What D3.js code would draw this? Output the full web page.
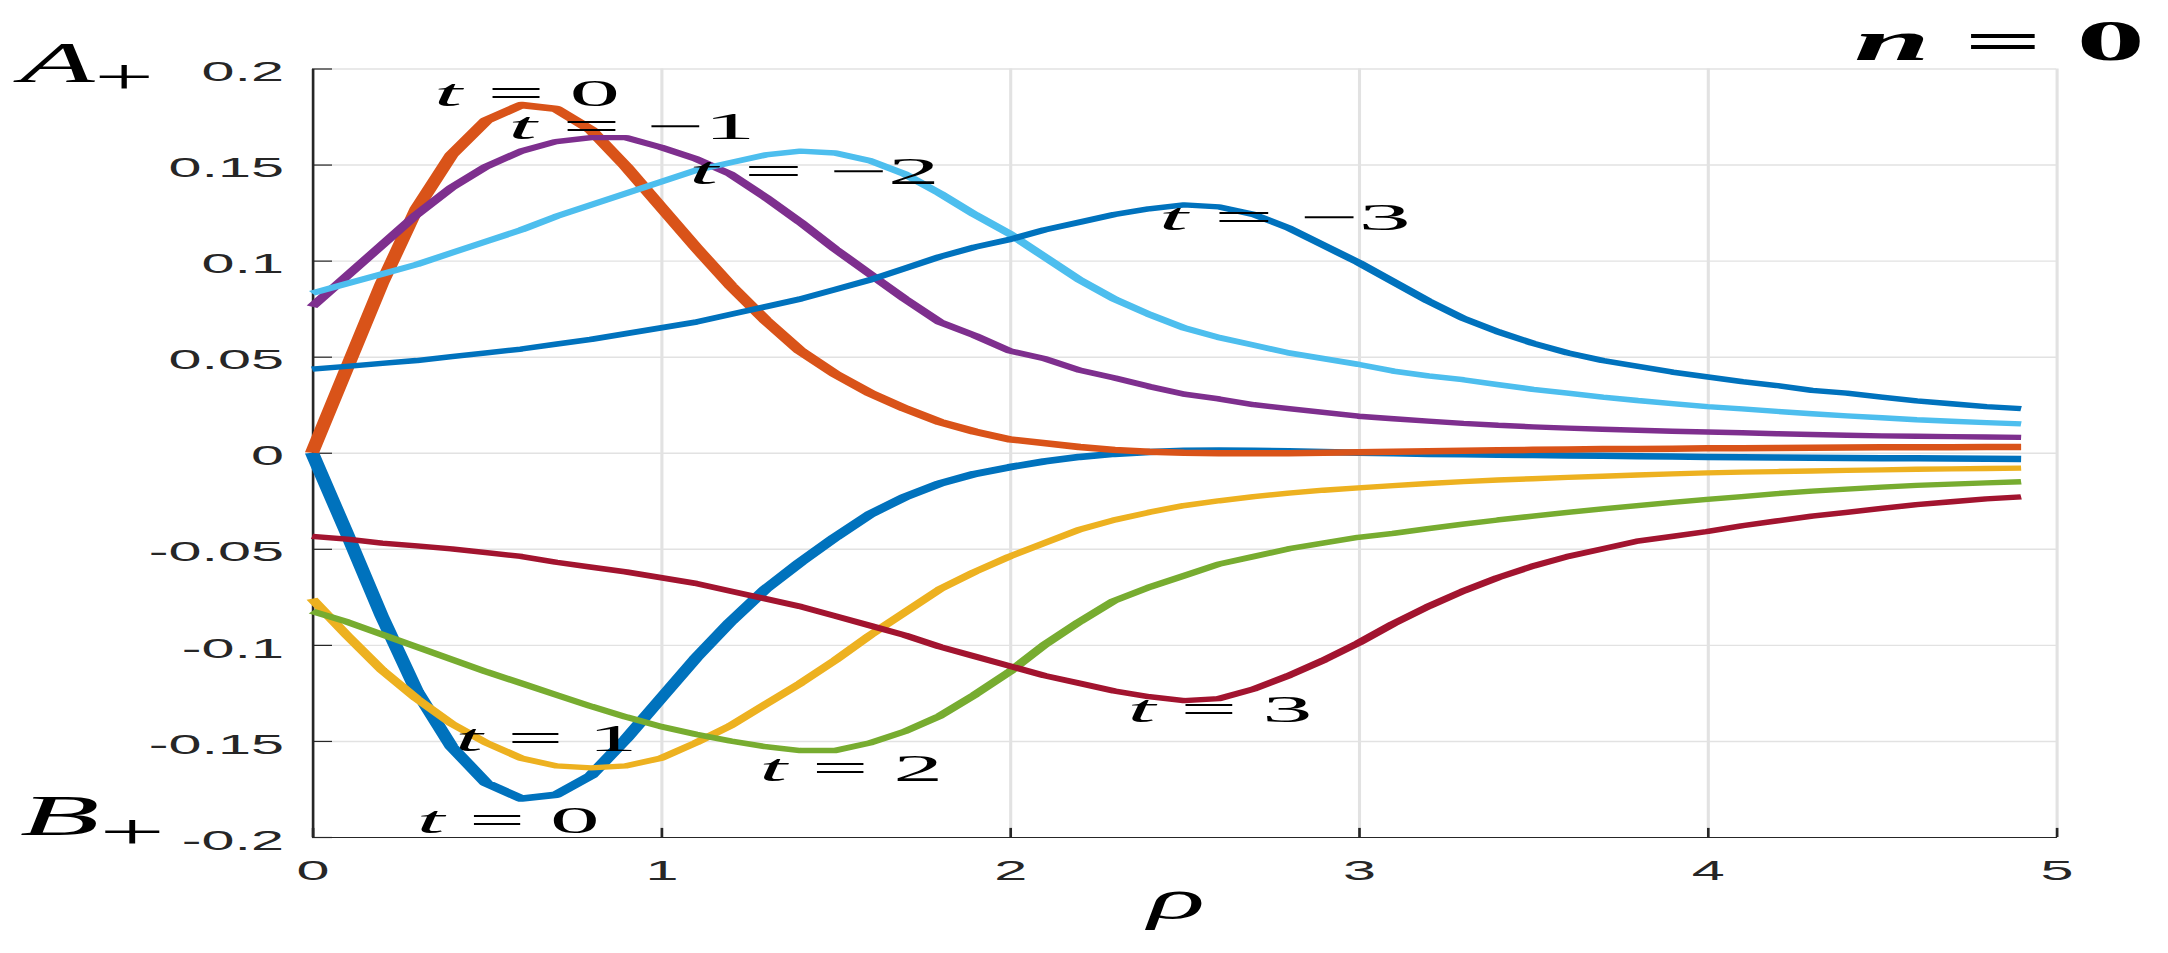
<!DOCTYPE html>
<html>
<head>
<meta charset="utf-8">
<script src="https://cdn.jsdelivr.net/npm/d3@7"></script>
<style>
  html, body { margin: 0; padding: 0; background: #fff; }
  svg { display: block; }
  .axis .tick text { font-family: "Liberation Sans", Arial, sans-serif; font-size: 27px; fill: #262626; }
  .math { font-family: "Liberation Serif", "Times New Roman", serif; fill: #000; }
</style>
</head>
<body>
<svg width="2168" height="953"></svg>
<script>
// sample points along rho (step 0.1, last one 4.9)
const rho = d3.range(50).map(i => i / 10);

// A+ curves
const aT0 = [0, 0.044, 0.088, 0.127, 0.155, 0.173, 0.181, 0.179, 0.168, 0.149,
  0.128, 0.107, 0.087, 0.069, 0.053, 0.041, 0.031, 0.023, 0.016, 0.011,
  0.007, 0.005, 0.003, 0.0015, 0.0005, 0, -0.0003, -0.0003, -0.0002, 0,
  0.0002, 0.0005, 0.0008, 0.001, 0.0013, 0.0015, 0.0017, 0.0019, 0.002, 0.0021,
  0.0023, 0.0024, 0.0025, 0.0026, 0.0027, 0.0028, 0.0028, 0.0029, 0.003, 0.003];
const aM1 = [0.076, 0.092, 0.108, 0.124, 0.138, 0.149, 0.157, 0.162, 0.164, 0.164,
  0.159, 0.153, 0.145, 0.133, 0.120, 0.106, 0.093, 0.080, 0.068, 0.061,
  0.053, 0.049, 0.043, 0.039, 0.0345, 0.0305, 0.028, 0.025, 0.023, 0.021,
  0.019, 0.0177, 0.0165, 0.0153, 0.0143, 0.0135, 0.0128, 0.0122, 0.0117, 0.0112,
  0.0108, 0.0104, 0.0099, 0.0095, 0.0091, 0.0088, 0.0086, 0.0084, 0.0082, 0.008];
const aM2 = [0.083, 0.088, 0.093, 0.098, 0.104, 0.110, 0.116, 0.123, 0.129, 0.135,
  0.141, 0.147, 0.151, 0.155, 0.157, 0.156, 0.152, 0.145, 0.135, 0.124,
  0.114, 0.102, 0.090, 0.080, 0.072, 0.065, 0.060, 0.056, 0.052, 0.049,
  0.046, 0.0425, 0.040, 0.038, 0.0355, 0.033, 0.031, 0.029, 0.0272, 0.0256,
  0.024, 0.0228, 0.0215, 0.0203, 0.0192, 0.0182, 0.0172, 0.0164, 0.0157, 0.015];
const aM3 = [0.0435, 0.045, 0.0465, 0.048, 0.050, 0.052, 0.054, 0.0565, 0.059, 0.062,
  0.065, 0.068, 0.072, 0.076, 0.080, 0.085, 0.090, 0.096, 0.102, 0.107,
  0.111, 0.116, 0.120, 0.124, 0.127, 0.129, 0.128, 0.124, 0.117, 0.108,
  0.099, 0.089, 0.079, 0.070, 0.063, 0.057, 0.052, 0.048, 0.045, 0.042,
  0.0395, 0.037, 0.035, 0.0325, 0.031, 0.029, 0.027, 0.0255, 0.024, 0.023];

// B+ curves
const bT0 = [0, -0.042, -0.085, -0.124, -0.153, -0.172, -0.180, -0.178, -0.168, -0.149,
  -0.128, -0.107, -0.088, -0.071, -0.057, -0.044, -0.032, -0.023, -0.016, -0.011,
  -0.0075, -0.0045, -0.0022, -0.0006, 0.0004, 0.001, 0.0012, 0.0011, 0.0008, 0.0004,
  0, -0.0003, -0.0006, -0.0008, -0.001, -0.0012, -0.0014, -0.0016, -0.0018, -0.002,
  -0.0022, -0.0023, -0.0025, -0.0026, -0.0027, -0.0028, -0.0029, -0.003, -0.0031, -0.0032];
const bP1 = [-0.076, -0.095, -0.113, -0.128, -0.141, -0.151, -0.159, -0.163, -0.164, -0.163,
  -0.159, -0.151, -0.142, -0.131, -0.120, -0.108, -0.095, -0.083, -0.071, -0.062,
  -0.054, -0.047, -0.040, -0.035, -0.031, -0.0275, -0.025, -0.0228, -0.021, -0.0195,
  -0.0183, -0.0171, -0.016, -0.015, -0.0142, -0.0135, -0.0128, -0.0122, -0.0116, -0.011,
  -0.0105, -0.0101, -0.0098, -0.0095, -0.0092, -0.0089, -0.0086, -0.0084, -0.0082, -0.008];
const bP2 = [-0.0825, -0.088, -0.0945, -0.101, -0.1075, -0.114, -0.120, -0.126, -0.132, -0.1375,
  -0.1425, -0.1465, -0.150, -0.153, -0.155, -0.155, -0.151, -0.145, -0.137, -0.126,
  -0.114, -0.100, -0.088, -0.077, -0.070, -0.064, -0.058, -0.054, -0.050, -0.047,
  -0.044, -0.042, -0.0395, -0.0372, -0.035, -0.033, -0.031, -0.0292, -0.0275, -0.0258,
  -0.0243, -0.0228, -0.0213, -0.0200, -0.0189, -0.0179, -0.0170, -0.0163, -0.0157, -0.0151];
const bP3 = [-0.0435, -0.045, -0.047, -0.0485, -0.050, -0.052, -0.054, -0.057, -0.0595, -0.062,
  -0.065, -0.068, -0.072, -0.076, -0.080, -0.085, -0.090, -0.095, -0.101, -0.106,
  -0.111, -0.116, -0.120, -0.124, -0.127, -0.129, -0.128, -0.123, -0.116, -0.108,
  -0.099, -0.089, -0.080, -0.072, -0.065, -0.059, -0.054, -0.050, -0.046, -0.0435,
  -0.041, -0.038, -0.0355, -0.033, -0.031, -0.029, -0.027, -0.0255, -0.024, -0.023];

// plotting order, as matlab cycled its colours
const curveValues = [bT0, aT0, bP1, aM1, bP2, aM2, bP3, aM3];
const curveT = [0, 0, 1, -1, 2, -2, 3, -3];
const colors = ["#0072BD", "#D95319", "#EDB120", "#7E2F8E", "#77AC30", "#4DBEEE", "#A2142F", "#0072BD"];

const xTicks = [0, 1, 2, 3, 4, 5];
const yTicks = [-0.2, -0.15, -0.1, -0.05, 0, 0.05, 0.1, 0.15, 0.2];

// curve labels: text, then where they sit (rho, value, width in px)
const labelText = ["0", "\u22121", "\u22122", "\u22123", "1", "0", "2", "3"];
const labelAt = [[0.350, 0.1805, 186], [0.563, 0.1633, 247], [1.081, 0.1399, 251], [2.428, 0.116, 252],
  [0.411, -0.1555, 182], [0.300, -0.1977, 183], [1.282, -0.1711, 184], [2.338, -0.1404, 185]];

// the picture is stretched sideways, so draw everything in a squeezed frame
const S = 2.2;
const tickLen = 9.1;

const x = d3.scaleLinear().domain([0, 5]).range([312 / S, 2056 / S]);
const y = d3.scaleLinear().domain([-0.2, 0.2]).range([837, 68.5]);

const svg = d3.select("svg");
svg.append("rect").attr("width", 2168).attr("height", 953).attr("fill", "#fff");
const g = svg.append("g").attr("transform", `scale(${S},1)`);

// grid
g.append("g")
  .attr("transform", `translate(0,${y(-0.2)})`)
  .call(d3.axisBottom(x).tickValues(xTicks.slice(1)).tickSize(-(y(-0.2) - y(0.2))).tickFormat(""))
  .call(s => s.select(".domain").remove())
  .selectAll("line").attr("stroke", "#e2e2e2").attr("stroke-width", 1.4);

g.append("g")
  .attr("transform", `translate(${x(0)},0)`)
  .call(d3.axisLeft(y).tickValues(yTicks.slice(1)).tickSize(-(x(5) - x(0))).tickFormat(""))
  .call(s => s.select(".domain").remove())
  .selectAll("line").attr("stroke", "#e2e2e2").attr("stroke-width", 1.4);

// axes
const fmtY = d => d === 0 ? "0" : String(+d.toFixed(2));

const xAxis = g.append("g")
  .attr("class", "axis")
  .attr("color", "#262626")
  .attr("transform", `translate(0,${y(-0.2)})`)
  .call(d3.axisBottom(x).tickValues(xTicks).tickSize(-tickLen).tickSizeOuter(0).tickPadding(24).tickFormat(d3.format("d")));

const yAxis = g.append("g")
  .attr("class", "axis")
  .attr("color", "#262626")
  .attr("transform", `translate(${x(0)},0)`)
  .call(d3.axisLeft(y).tickValues(yTicks).tickSize(-tickLen).tickSizeOuter(0).tickPadding(12.7).tickFormat(fmtY));

yAxis.selectAll(".tick text").attr("dy", "0.45em");
g.selectAll(".axis path, .axis line").attr("stroke-width", 1.2);

// curves
const line = d3.line()
  .x((d, i) => x(rho[i]))
  .y(d => y(d));

g.selectAll(".curve")
  .data(curveValues)
  .join("path")
  .attr("class", "curve")
  .attr("fill", "none")
  .attr("stroke", (d, i) => colors[i])
  .attr("stroke-width", (d, i) => curveT[i] === 0 ? 6.5 : 5.4)
  .attr("stroke-linejoin", "round")
  .attr("d", line);

// math style text with a fixed drawn width
function mathText(px, py, width, size) {
  return g.append("text")
    .attr("class", "math")
    .attr("x", px)
    .attr("y", py)
    .attr("font-size", size)
    .attr("textLength", width / S)
    .attr("lengthAdjust", "spacingAndGlyphs");
}

labelText.forEach((v, i) => {
  const [r, val, w] = labelAt[i];
  const t = mathText(x(r), y(val), w, 38);
  t.append("tspan").attr("font-style", "italic").text("t");
  t.append("tspan").text(" = " + v);
});

// A+ and B+ at the ends of the value axis
const aLab = mathText(20 / S, 82, 134, 58);
aLab.append("tspan").attr("font-style", "italic").text("A");
aLab.append("tspan").attr("font-size", 50).attr("dy", 12).text("+");

const bLab = mathText(20 / S, 835, 145, 56);
bLab.append("tspan").attr("font-style", "italic").text("B");
bLab.append("tspan").attr("font-size", 50).attr("dy", 14).text("+");

// n = 0 in the top right corner
const nLab = mathText(1854 / S, 60, 291, 56).attr("font-weight", "bold");
nLab.append("tspan").attr("font-style", "italic").text("n");
nLab.append("tspan").text(" = 0");

// rho under the x axis
mathText(1148 / S, 918, 57, 56).attr("font-style", "italic").text("\u03c1");
</script>
</body>
</html>
